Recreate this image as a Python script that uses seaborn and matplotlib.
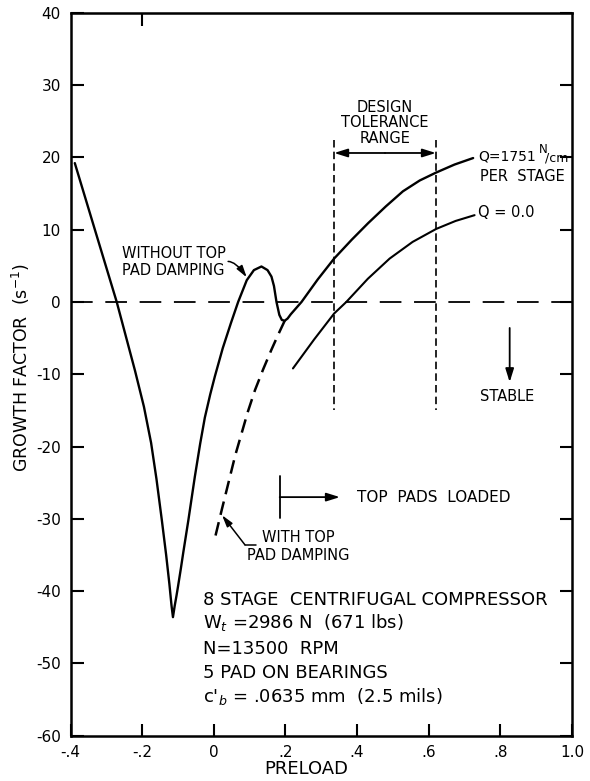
import matplotlib
matplotlib.use("Agg")
import matplotlib.pyplot as plt
import seaborn as sns
import pandas as pd
import numpy as np

# --- data ---
# growth factor curve without top pad damping, continuing into the Q=1751 N/cm branch
undamped_x = [-0.388, -0.332, -0.271, -0.220, -0.195, -0.175, -0.160, -0.145, -0.133,
              -0.124, -0.118, -0.114, -0.109, -0.104, -0.100, -0.092, -0.085, -0.071,
              -0.053, -0.038, -0.025, -0.010, 0.003, 0.025, 0.048, 0.068, 0.092, 0.112,
              0.133, 0.150, 0.161, 0.168, 0.175, 0.183, 0.190, 0.198, 0.206, 0.215,
              0.245, 0.290, 0.336, 0.385, 0.431, 0.480, 0.528, 0.575, 0.621, 0.672, 0.724]
undamped_y = [19.2, 10.0, 0.0, -9.5, -14.5, -19.5, -24.5, -30.2, -35.0,
              -39.0, -42.0, -43.6, -42.0, -40.6, -39.4, -36.9, -34.6, -30.2,
              -24.2, -19.6, -16.0, -12.8, -10.3, -6.4, -2.9, 0.0, 3.0, 4.4,
              4.9, 4.4, 3.5, 2.2, 0.0, -1.8, -2.5, -2.6, -2.3, -1.7,
              0.0, 3.1, 6.0, 8.6, 10.9, 13.2, 15.3, 16.8, 17.9, 19.0, 19.9]

# with top pad damping (dashed)
damped_x = [0.198, 0.180, 0.161, 0.138, 0.115, 0.095, 0.0775, 0.060, 0.045, 0.022, 0.003]
damped_y = [-2.6, -4.5, -6.6, -9.3, -12.2, -15.2, -18.2, -21.2, -24.2, -28.8, -32.7]

# Q = 0.0 branch
q0_x = [0.221, 0.280, 0.336, 0.370, 0.430, 0.491, 0.555, 0.621, 0.675, 0.728]
q0_y = [-9.2, -5.2, -1.6, 0.0, 3.2, 6.0, 8.3, 10.1, 11.2, 12.0]

tolerance_range = [0.336, 0.62]
x_ticks = [-0.4, -0.2, 0.0, 0.2, 0.4, 0.6, 0.8, 1.0]
x_tick_labels = ["-.4", "-.2", "0", ".2", ".4", ".6", ".8", "1.0"]
y_ticks = [40, 30, 20, 10, 0, -10, -20, -30, -40, -50, -60]
y_tick_labels = ["40", "30", "20", "10", "0", "-10", "-20", "-30", "-40", "-50", "-60"]

info_lines = ["8 STAGE  CENTRIFUGAL COMPRESSOR",
              r"W$_{t}$ =2986 N  (671 lbs)",
              "N=13500  RPM",
              "5 PAD ON BEARINGS",
              r"c$'_{b}$ = .0635 mm  (2.5 mils)"]
info_y = [-41.2, -44.4, -48.0, -51.3, -54.6]

sns.set_style("ticks")
plt.rcParams['font.family'] = ['DejaVu Sans']
plt.rcParams['mathtext.fontset'] = 'dejavusans'
plt.rcParams['text.color'] = 'black'
plt.rcParams['axes.labelcolor'] = 'black'
plt.rcParams['xtick.color'] = 'black'
plt.rcParams['ytick.color'] = 'black'
plt.rcParams['axes.edgecolor'] = 'black'

fig = plt.figure(figsize=(5.9, 7.81), dpi=100)
ax = fig.add_axes([0.1195, 0.058, 0.85, 0.9257])

sns.lineplot(x=undamped_x, y=undamped_y, sort=False, estimator=None, color="black", lw=1.7, ax=ax)
sns.lineplot(x=q0_x, y=q0_y, sort=False, estimator=None, color="black", lw=1.5, ax=ax)
sns.lineplot(x=damped_x, y=damped_y, sort=False, estimator=None, color="black", lw=1.8,
             ax=ax, linestyle=(0, (5.5, 3.0)))

# stability boundary and tolerance limits
ax.axhline(0, color="black", lw=1.3, linestyle=(0, (12, 7)))
for xv in tolerance_range:
    ax.plot([xv, xv], [22.4, -15.0], color="black", lw=1.2, linestyle=(0, (4.5, 2.5)))

arrow = dict(arrowstyle="-|>,head_length=0.8,head_width=0.25", color="black", lw=1.3,
             shrinkA=0, shrinkB=0)
ax.annotate("", xy=(tolerance_range[0], 20.6), xytext=(np.mean(tolerance_range), 20.6),
            arrowprops=arrow)
ax.annotate("", xy=(tolerance_range[1], 20.6), xytext=(np.mean(tolerance_range), 20.6),
            arrowprops=arrow)
ax.text(0.478, 24.8, "DESIGN\nTOLERANCE\nRANGE", ha="center", va="center",
        fontsize=10.5, linespacing=1.05, fontweight="medium")

ax.text(0.737, 20.1, "Q=1751", ha="left", va="center", fontsize=10)
ax.text(0.907, 21.1, "N", ha="left", va="center", fontsize=8.5)
ax.text(0.925, 19.9, "/cm", ha="left", va="center", fontsize=9)
ax.text(0.743, 17.4, "PER  STAGE", ha="left", va="center", fontsize=10.5)
ax.text(0.737, 12.3, "Q = 0.0", ha="left", va="center", fontsize=10.5)

# stable arrow
ax.annotate("", xy=(0.826, -11.1), xytext=(0.826, -3.6), arrowprops=arrow)
ax.text(0.82, -13.1, "STABLE", ha="center", va="center", fontsize=10.5)

# without damping label
ax.text(-0.256, 5.5, "WITHOUT TOP\nPAD DAMPING", ha="left", va="center", fontsize=10.5,
        linespacing=1.15)
ax.annotate("", xy=(0.092, 3.4), xytext=(0.04, 5.6),
            arrowprops=dict(arrowstyle="-|>,head_length=0.7,head_width=0.2", color="black",
                            lw=1.1, shrinkA=0, shrinkB=0,
                            connectionstyle="angle3,angleA=0,angleB=-55"))

# with damping label
ax.text(0.134, -32.6, "WITH TOP", ha="left", va="center", fontsize=10.5)
ax.text(0.092, -35.1, "PAD DAMPING", ha="left", va="center", fontsize=10.5)
ax.plot([0.087, 0.118], [-33.6, -33.6], color="black", lw=1.1)
ax.annotate("", xy=(0.023, -29.5), xytext=(0.087, -33.6),
            arrowprops=dict(arrowstyle="-|>,head_length=0.7,head_width=0.2", color="black",
                            lw=1.1, shrinkA=0, shrinkB=0))

# top pads loaded marker
ax.plot([0.184, 0.184], [-24.1, -29.9], color="black", lw=1.3)
ax.annotate("", xy=(0.352, -27.0), xytext=(0.184, -27.0), arrowprops=arrow)
ax.text(0.40, -27.0, "TOP  PADS  LOADED", ha="left", va="center", fontsize=11)

# info block
for line, yv in zip(info_lines, info_y):
    ax.text(-0.031, yv, line, ha="left", va="center", fontsize=13)

ax.set_xlim(-0.4, 1.0)
ax.set_ylim(-60, 40)
ax.set_xticks(x_ticks)
ax.set_xticklabels(x_tick_labels)
ax.set_yticks(y_ticks)
ax.set_yticklabels(y_tick_labels)
ax.tick_params(direction="in", length=9, width=1.5, right=True, labelsize=11, pad=7)
for s in ax.spines.values():
    s.set_linewidth(1.8)

top = ax.secondary_xaxis("top")
top.set_xticks([-0.2])
top.tick_params(direction="in", length=9, width=1.5, labeltop=False)

ax.set_xlabel("PRELOAD", fontsize=13)
ax.xaxis.set_label_coords(0.47, -0.033)
ax.set_ylabel(r"GROWTH FACTOR  (s$^{-1}$)", fontsize=12.5)
ax.yaxis.set_label_coords(-0.077, 0.509)

fig.savefig("out.png", dpi=100)
